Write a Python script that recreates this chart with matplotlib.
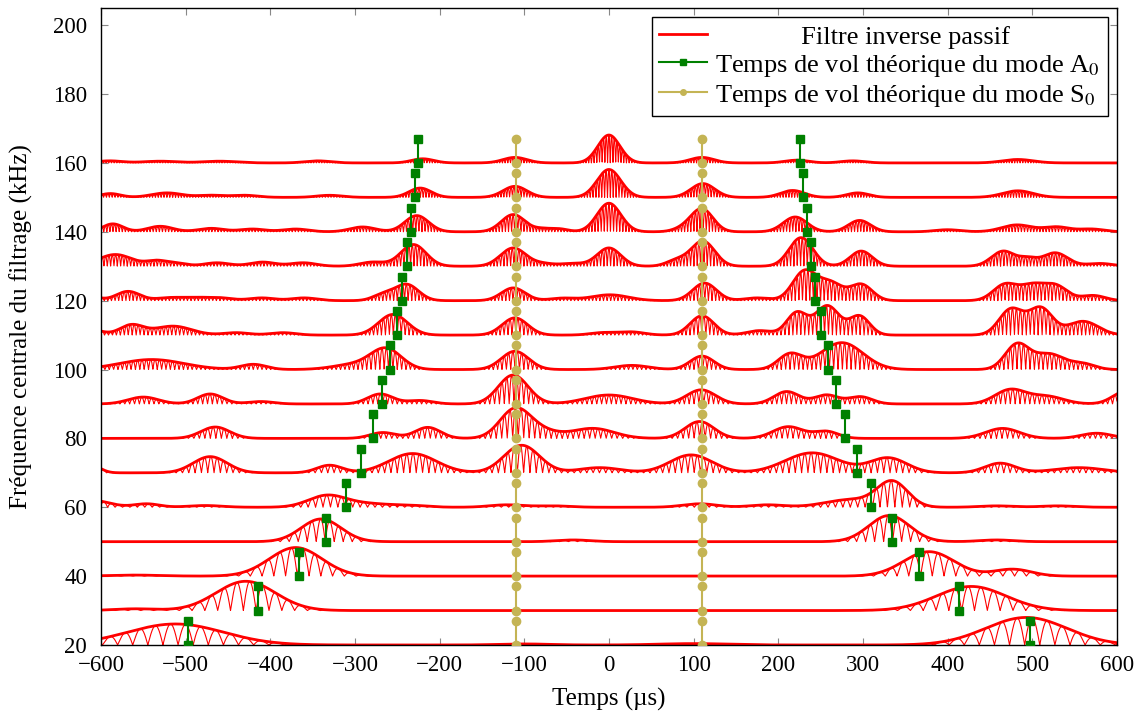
import numpy as np
import matplotlib
matplotlib.use('Agg')
import matplotlib.pyplot as plt
from matplotlib.lines import Line2D

plt.rcParams['font.family'] = ['Liberation Serif', 'DejaVu Serif']
plt.rcParams['mathtext.fontset'] = 'stix'
plt.rcParams['font.size'] = 16

# rows of the waterfall: centre frequency of the filter (kHz)
row_freqs = [20, 30, 40, 50, 60, 70, 80, 90, 100, 110, 120, 130, 140, 150, 160]
# apparent oscillation rate of each trace (kHz)
carrier_khz = [28, 33, 36, 47, 57, 67, 77, 87, 97, 107, 117, 127, 137, 147, 157]

# wave packets: (centre us, height kHz-units, width us)
pk20 = [(-512, 6.1, 57), (493, 8.0, 48), (100, 0.4, 40), (-100, 0.3, 30)]
pk30 = [(-429, 8.5, 35), (428, 7.0, 41), (-560, 0.5, 25)]
pk40 = [(-370, 8.3, 31), (378, 7.1, 30), (477, 2.0, 22), (-560, 0.3, 30)]
pk50 = [(-340, 6.6, 23.5), (331, 7.6, 24), (458, 0.5, 20), (-42, 0.5, 20)]
pk60 = [(-610, 2.0, 20), (-546, 1.0, 15), (-477, 0.5, 20), (-333, 3.4, 22), (-285, 1.0, 25),
        (-235, 0.5, 20), (-121, 0.7, 20), (-66, 0.4, 20), (107, 1.0, 20), (187, 0.7, 20),
        (285, 2.2, 30), (335, 7.2, 18), (458, 0.4, 20), (530, 0.4, 20)]
pk70 = [(-610, 2.0, 10), (-471, 4.7, 20), (-330, 2.2, 15), (-232, 5.6, 28), (-103, 8.0, 21),
        (-11, 1.5, 25), (97, 5.2, 25), (240, 5.8, 32), (330, 4.3, 22), (462, 2.8, 18),
        (555, 1.5, 30)]
pk80 = [(-465, 3.3, 17), (-267, 1.7, 15), (-214, 3.2, 15), (-111, 8.3, 18), (-80, 2.0, 20),
        (-19, 2.9, 25), (107, 4.9, 17), (212, 3.4, 18), (257, 2.0, 14), (465, 2.9, 20),
        (576, 1.5, 18)]
pk90 = [(-550, 2.0, 18), (-471, 2.9, 15), (-411, 0.7, 15), (-270, 2.9, 15), (-223, 1.0, 15),
        (-113, 8.4, 17.5), (0, 2.6, 28), (109, 4.1, 17), (210, 3.6, 15), (257, 2.6, 14),
        (297, 2.1, 14), (474, 4.1, 18), (517, 2.2, 20), (610, 3.6, 15)]
pk100 = [(-540, 2.9, 38), (-420, 1.5, 15), (-300, 1.5, 25), (-263, 5.8, 18), (-111, 5.3, 16),
         (27, 1.2, 20), (110, 3.9, 14), (214, 4.4, 14), (275, 7.8, 25), (482, 7.2, 14),
         (520, 4.5, 18), (560, 1.6, 14)]
pk110 = [(-610, 1.5, 12), (-564, 2.9, 14), (-515, 2.6, 22), (-440, 0.7, 15), (-385, 0.7, 15),
         (-255, 6.0, 17), (-111, 5.0, 15), (-7, 0.7, 15), (27, 0.9, 15), (110, 5.6, 14),
         (178, 1.3, 15), (222, 6.5, 12), (258, 8.5, 14), (296, 5.5, 12), (475, 7.5, 14),
         (510, 7.8, 14), (560, 4.0, 18)]
pk120 = [(-610, 1.0, 10), (-568, 2.7, 14), (-520, 0.8, 15), (-490, 0.8, 15), (-460, 0.8, 15),
         (-410, 0.8, 15), (-360, 0.8, 15), (-267, 1.7, 12), (-239, 4.7, 14), (-113, 3.7, 14),
         (-55, 0.7, 15), (1, 1.7, 22), (113, 5.1, 14), (175, 0.8, 15), (231, 8.5, 14),
         (262, 5.0, 14), (298, 4.7, 13), (468, 4.7, 14), (500, 4.2, 14), (528, 4.2, 14),
         (572, 1.5, 14)]
pk130 = [(-583, 3.4, 20), (-534, 1.5, 12), (-510, 0.8, 12), (-463, 1.0, 15), (-409, 1.2, 15),
         (-361, 1.0, 15), (-279, 1.2, 15), (-231, 6.3, 15), (-113, 5.3, 15), (-78, 0.7, 12),
         (-43, 0.8, 15), (0, 5.3, 14), (80, 1.7, 12), (111, 7.3, 14), (227, 8.3, 14),
         (298, 4.4, 13), (466, 4.4, 14), (495, 1.9, 10), (527, 3.9, 15), (580, 0.8, 15)]
pk140 = [(-586, 2.3, 12), (-530, 1.6, 15), (-470, 1.0, 15), (-421, 0.8, 15), (-370, 0.8, 15),
         (-291, 1.4, 15), (-227, 4.7, 14), (-113, 5.0, 14), (-78, 0.8, 10), (-58, 0.8, 10),
         (0, 8.3, 14), (88, 0.9, 12), (110, 6.6, 13), (220, 4.3, 14), (296, 3.3, 13),
         (400, 0.6, 15), (482, 2.0, 18), (529, 1.4, 15), (570, 0.8, 15)]
pk150 = [(-589, 1.1, 12), (-522, 1.3, 18), (-470, 0.6, 15), (-430, 0.6, 15), (-330, 0.6, 15),
         (-223, 2.7, 13), (-111, 3.2, 14), (0, 8.1, 14), (111, 4.0, 14), (217, 2.0, 14),
         (294, 1.3, 13), (483, 1.9, 18)]
pk160 = [(-590, 0.6, 15), (-530, 0.5, 20), (-460, 0.5, 20), (-344, 0.6, 15), (-220, 1.2, 13),
         (-111, 1.6, 14), (0, 8.1, 13), (110, 1.6, 14), (222, 0.8, 14), (288, 0.6, 14),
         (483, 1.0, 18)]
packets = [pk20, pk30, pk40, pk50, pk60, pk70, pk80, pk90, pk100,
           pk110, pk120, pk130, pk140, pk150, pk160]

# theoretical times of flight (us), mirrored on both sides of t = 0
a0_times = [497, 414, 366, 334, 310, 293, 279, 268, 258.5, 250.5, 244, 238.5, 233.5, 229, 225.4]
s0_time = 110
mark_height = 7

t = np.linspace(-600, 600, 12001)

fig = plt.figure(figsize=(11.42, 7.18), dpi=100)
ax = fig.add_axes([0.0884, 0.1017, 0.8896, 0.8872])

for f, fc, pk in zip(row_freqs, carrier_khz, packets):
    env = np.zeros_like(t)
    for c, a, s in pk:
        env += a * np.exp(-0.5 * ((t - c) / s) ** 2)
    sig = env * np.abs(np.cos(2 * np.pi * fc * 1e-3 * t))
    ax.plot(t, f + sig, color='red', lw=0.8)
    ax.plot(t, f + env, color='red', lw=2.0)

a0x, a0y, s0x, s0y = [], [], [], []
for f, ta in zip(row_freqs, a0_times):
    for sgn in (-1, 1):
        a0x += [sgn * ta, sgn * ta, np.nan]
        a0y += [f, f + mark_height, np.nan]
        s0x += [sgn * s0_time, sgn * s0_time, np.nan]
        s0y += [f, f + mark_height, np.nan]
ax.plot(a0x, a0y, color='green', marker='s', ms=6, lw=1.5, zorder=5)
ax.plot(s0x, s0y, color='#c4b454', marker='o', ms=6, lw=1.5, zorder=5)

ax.set_xlim(-600, 600)
ax.set_ylim(20, 205)
ax.set_xticks(range(-600, 601, 100))
ax.set_yticks(range(20, 201, 20))
ax.tick_params(direction='in', top=True, right=True, length=5, width=0.8,
               color='#888888', labelsize=16.5, pad=7)
ax.tick_params(axis='y', pad=10)
for sp in ax.spines.values():
    sp.set_color('black')
    sp.set_linewidth(1.0)
ax.set_xlabel('Temps (µs)', fontsize=18)
ax.set_ylabel('Fréquence centrale du filtrage (kHz)', fontsize=18)
ax.xaxis.set_label_coords(0.5, -0.068)
ax.yaxis.set_label_coords(-0.067, 0.5)

handles = [Line2D([], [], color='red', lw=2),
           Line2D([], [], color='green', marker='s', ms=4, lw=1.5),
           Line2D([], [], color='#c4b454', marker='o', ms=4, lw=1.5)]
labels = ['Filtre inverse passif',
          'Temps de vol théorique du mode A$_0$',
          'Temps de vol théorique du mode S$_0$']
leg = ax.legend(handles, labels, loc='upper right', fontsize=19, fancybox=False,
                framealpha=1, edgecolor='black', borderaxespad=0.35, handlelength=1.8,
                handletextpad=0.3, labelspacing=0.15, borderpad=0.3)
leg.get_frame().set_linewidth(1.0)

# centre the legend texts (pgfplots style) by padding with leading spaces
fig.canvas.draw()
r = fig.canvas.get_renderer()
texts = leg.get_texts()
wmax = max(tx.get_window_extent(r).width for tx in texts)
for tx in texts:
    base = tx.get_text()
    w0 = tx.get_window_extent(r).width
    n = 0
    while True:
        tx.set_text(' ' * (n + 1) + base)
        if tx.get_window_extent(r).width - w0 > (wmax - w0) / 2:
            break
        n += 1
    tx.set_text(' ' * n + base)

fig.savefig('out.png', dpi=100)
